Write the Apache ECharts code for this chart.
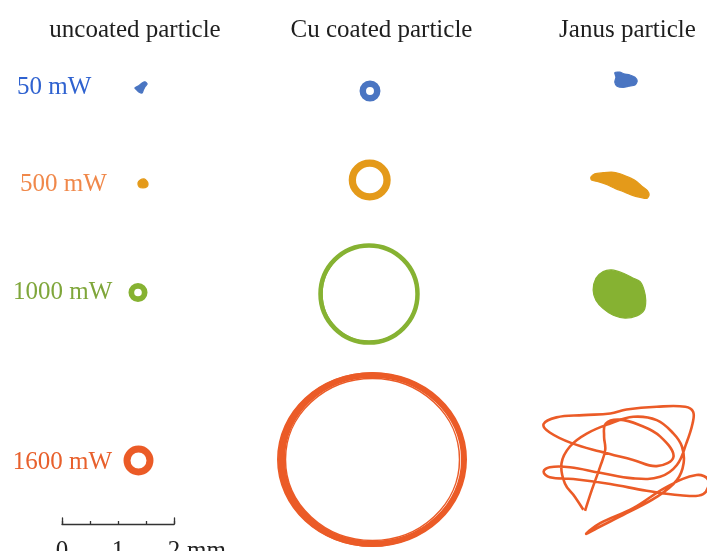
<!DOCTYPE html>
<html>
<head>
<meta charset="utf-8">
<script src="https://cdn.jsdelivr.net/npm/echarts@6/dist/echarts.min.js"></script>
<style>
  html, body { margin: 0; padding: 0; background: #ffffff; }
  #chart { width: 707px; height: 551px; }
</style>
</head>
<body>
<div id="chart"></div>
<script>
// ---------- data ----------
const particleTypes = ['uncoated particle', 'Cu coated particle', 'Janus particle'];
const powerLevels = ['50 mW', '500 mW', '1000 mW', '1600 mW'];
const scaleTicks = [0, 1, 2];
const scaleUnit = 'mm';

// Filled trajectory outlines, [x, y] in mm about the trajectory centre
const uncoated50 = [[-0.11, 0], [-0.04, 0.04], [0.02, 0.09], [0.07, 0.11], [0.11, 0.07],
  [0.07, 0.02], [0.04, -0.04], [0.02, -0.09], [-0.04, -0.07], [-0.07, -0.04]];
const uncoated500 = [[-0.09, 0.02], [-0.05, 0.07], [0.02, 0.09], [0.07, 0.05], [0.09, 0],
  [0.07, -0.05], [0, -0.07], [-0.07, -0.05]];
const janus50 = [[-0.20, 0.13], [-0.11, 0.14], [-0.04, 0.11], [0.07, 0.09], [0.16, 0.05],
  [0.20, -0.02], [0.16, -0.09], [0.05, -0.11], [-0.05, -0.13], [-0.16, -0.11], [-0.20, -0.04], [-0.18, 0.05]];
const janus500 = [[-0.52, 0.14], [-0.45, 0.20], [-0.30, 0.22], [-0.15, 0.23], [0, 0.20], [0.15, 0.14],
  [0.27, 0.08], [0.39, -0.02], [0.49, -0.10], [0.52, -0.18], [0.48, -0.24], [0.36, -0.22],
  [0.21, -0.18], [0.06, -0.12], [-0.09, -0.06], [-0.24, 0.01], [-0.39, 0.06], [-0.51, 0.09]];
const janus1000 = [[-0.30, 0.40], [-0.15, 0.43], [0.06, 0.37], [0.24, 0.28], [0.36, 0.22], [0.43, 0.07],
  [0.46, -0.11], [0.43, -0.29], [0.30, -0.39], [0.09, -0.43], [-0.12, -0.38], [-0.30, -0.26],
  [-0.43, -0.11], [-0.48, 0.07], [-0.43, 0.28]];

// Orbit loops, [cx, cy, rx, ry, band width] in mm
const uncoated1000 = [[0, 0, 0.119, 0.119, 0.102]];
const uncoated1600 = [[0, 0, 0.205, 0.205, 0.125], [0.01, -0.01, 0.21, 0.2, 0.05]];
const cu50 = [[0, 0, 0.129, 0.129, 0.116]];
const cu500 = [[0, 0, 0.31, 0.30, 0.13], [0.01, 0.005, 0.32, 0.305, 0.05]];
const cu1000 = [[0, 0, 0.866, 0.866, 0.08], [0.01, 0.005, 0.85, 0.855, 0.03]];
const cu1600 = [[0, 0, 1.634, 1.509, 0.107], [0.02, 0.01, 1.598, 1.482, 0.036],
  [0, 0, 1.554, 1.446, 0.027], [-0.02, 0, 1.67, 1.545, 0.03]];

// Irregular orbit of the Janus particle at 1600 mW, [x, y] in mm
const janus1600 = [[-0.69, -0.71], [-0.84, -0.48], [-1.02, -0.24], [-1.08, 0.12], [-0.93, 0.42],
  [-0.63, 0.65], [-0.21, 0.83], [0.20, 0.95], [0.62, 0.89], [0.92, 0.65], [1.07, 0.42], [1.10, 0.12],
  [0.98, -0.18], [0.62, -0.48], [0.08, -0.77], [-0.45, -1.04], [-0.64, -1.14], [-0.39, -0.95],
  [0.20, -0.68], [0.80, -0.30], [1.33, -0.09], [1.54, -0.18], [1.45, -0.43], [1.04, -0.45],
  [0.44, -0.37], [-0.21, -0.25], [-0.87, -0.16], [-1.29, -0.13], [-1.40, -0.03], [-1.29, 0.05],
  [-0.93, 0.05], [-0.39, -0.05], [0.20, -0.15], [0.68, -0.12], [0.98, 0.09], [1.15, 0.48],
  [1.26, 0.83], [1.27, 1.04], [1.13, 1.13], [0.62, 1.13], [0.08, 1.08], [-0.21, 1.01],
  [-0.69, 0.98], [-1.17, 0.94], [-1.40, 0.82], [-1.29, 0.67], [-0.90, 0.48], [-0.39, 0.33],
  [0.20, 0.18], [0.62, 0.07], [0.92, 0.24], [0.68, 0.60], [0.32, 0.80], [-0.04, 0.90],
  [-0.29, 0.83], [-0.32, 0.60], [-0.30, 0.36], [-0.39, 0.06], [-0.54, -0.36], [-0.66, -0.73]];

// ---------- layout & style ----------
const CANVAS_W = 707, CANVAS_H = 551;
const PX_PER_MM = 56;          // scale bar: 2 mm spans 112 px
const HALF_PX = 100;           // half size of each trajectory panel
const FONT = '"Liberation Serif", "Times New Roman", serif';
const traceColors = ['#4a75c2', '#e49a1a', '#86b232', '#eb5b27'];
const labelColors = ['#2f62d0', '#f0884a', '#7fa63a', '#e8602c'];

const panels = [
  { kind: 'blob', data: uncoated50,  row: 0, at: [141, 88] },
  { kind: 'blob', data: uncoated500, row: 1, at: [143, 184] },
  { kind: 'loop', data: uncoated1000, row: 2, at: [138, 292.5] },
  { kind: 'loop', data: uncoated1600, row: 3, at: [138.5, 460.5] },
  { kind: 'loop', data: cu50,   row: 0, at: [370, 91] },
  { kind: 'loop', data: cu500,  row: 1, at: [369.7, 180] },
  { kind: 'loop', data: cu1000, row: 2, at: [369, 294] },
  { kind: 'loop', data: cu1600, row: 3, at: [372.5, 459.5] },
  { kind: 'blob', data: janus50,   row: 0, at: [626, 80] },
  { kind: 'blob', data: janus500,  row: 1, at: [620, 185] },
  { kind: 'blob', data: janus1000, row: 2, at: [620, 294] },
  { kind: 'path', data: janus1600, row: 3, at: [622, 470] }
];
const titleX = [135, 381.5, 627.5];
const rowLabelPos = [[17, 87], [20, 184], [13, 292], [12.7, 462]];

const grids = [], xAxes = [], yAxes = [], series = [];

panels.forEach((p, i) => {
  // panel rectangle kept inside the canvas; axis ranges follow from it at a fixed mm scale
  const cx = p.at[0], cy = p.at[1];
  const l = Math.max(0, cx - HALF_PX), r = Math.min(CANVAS_W, cx + HALF_PX);
  const t = Math.max(0, cy - HALF_PX), b = Math.min(CANVAS_H, cy + HALF_PX);
  grids.push({ left: l, top: t, width: r - l, height: b - t, outerBoundsMode: 'none' });
  xAxes.push({ type: 'value', gridIndex: i, min: (l - cx) / PX_PER_MM, max: (r - cx) / PX_PER_MM, show: false });
  yAxes.push({ type: 'value', gridIndex: i, min: (cy - b) / PX_PER_MM, max: (cy - t) / PX_PER_MM, show: false });

  const color = traceColors[p.row];
  const pts = p.data;
  const base = { type: 'custom', xAxisIndex: i, yAxisIndex: i, silent: true, animation: false, data: pts };
  if (p.kind === 'blob') {
    series.push(Object.assign({
      renderItem: (params, api) => params.dataIndex !== 0 ? null : {
        type: 'polygon',
        shape: { points: pts.map((q) => api.coord(q)), smooth: 0.25 },
        style: { fill: color, stroke: color, lineWidth: 1.2, lineJoin: 'round' }
      }
    }, base));
  } else if (p.kind === 'loop') {
    series.push(Object.assign({
      renderItem: (params, api) => {
        const c = api.coord([api.value(0), api.value(1)]);
        const rr = api.size([api.value(2), api.value(3)]);
        const w = api.size([api.value(4), 0])[0];
        return {
          type: 'ellipse',
          shape: { cx: c[0], cy: c[1], rx: rr[0], ry: rr[1] },
          style: { fill: 'none', stroke: color, lineWidth: w }
        };
      }
    }, base));
  } else {
    series.push(Object.assign({
      renderItem: (params, api) => params.dataIndex !== 0 ? null : {
        type: 'polyline',
        shape: { points: pts.map((q) => api.coord(q)), smooth: 0.4 },
        style: { fill: 'none', stroke: color, lineWidth: 2.6, lineJoin: 'round' }
      }
    }, base));
  }
});

// scale bar
const sb = panels.length;
const barLine = { color: '#333333', width: 1.3 };
grids.push({ left: 62, top: 518, width: 2 * PX_PER_MM, height: 6, outerBoundsMode: 'none' });
xAxes.push({
  type: 'value', gridIndex: sb, min: scaleTicks[0], max: scaleTicks[scaleTicks.length - 1], interval: 1,
  axisLine: { show: true, onZero: false, lineStyle: barLine },
  axisTick: { show: true, inside: true, length: 3, lineStyle: barLine },
  minorTick: { show: true, splitNumber: 2, length: 3, lineStyle: barLine },
  splitLine: { show: false },
  axisLabel: { show: true, margin: 15, fontSize: 25, fontFamily: FONT, color: '#222222' },
  name: scaleUnit, nameLocation: 'end', nameGap: 13,
  nameTextStyle: { fontSize: 25, fontFamily: FONT, color: '#222222', align: 'left', verticalAlign: 'top', padding: [15, 0, 0, 0] }
});
['left', 'right'].forEach((pos) => yAxes.push({
  type: 'value', gridIndex: sb, min: 0, max: 1, position: pos,
  axisLine: { show: true, onZero: false, lineStyle: barLine },
  axisTick: { show: false }, axisLabel: { show: false }, splitLine: { show: false }
}));

// column titles and power labels
const texts = [];
particleTypes.forEach((t, i) => texts.push({
  type: 'text', x: titleX[i], y: 30, silent: true,
  style: { text: t, fontSize: 25, fontFamily: FONT, fill: '#1e1e1e', align: 'center', verticalAlign: 'middle' }
}));
powerLevels.forEach((t, i) => texts.push({
  type: 'text', x: rowLabelPos[i][0], y: rowLabelPos[i][1], silent: true,
  style: { text: t, fontSize: 25, fontFamily: FONT, fill: labelColors[i], align: 'left', verticalAlign: 'middle' }
}));

const chart = echarts.init(document.getElementById('chart'), null, { renderer: 'canvas' });
chart.setOption({
  backgroundColor: '#ffffff',
  animation: false,
  grid: grids,
  xAxis: xAxes,
  yAxis: yAxes,
  series: series,
  graphic: texts
});
</script>
</body>
</html>
